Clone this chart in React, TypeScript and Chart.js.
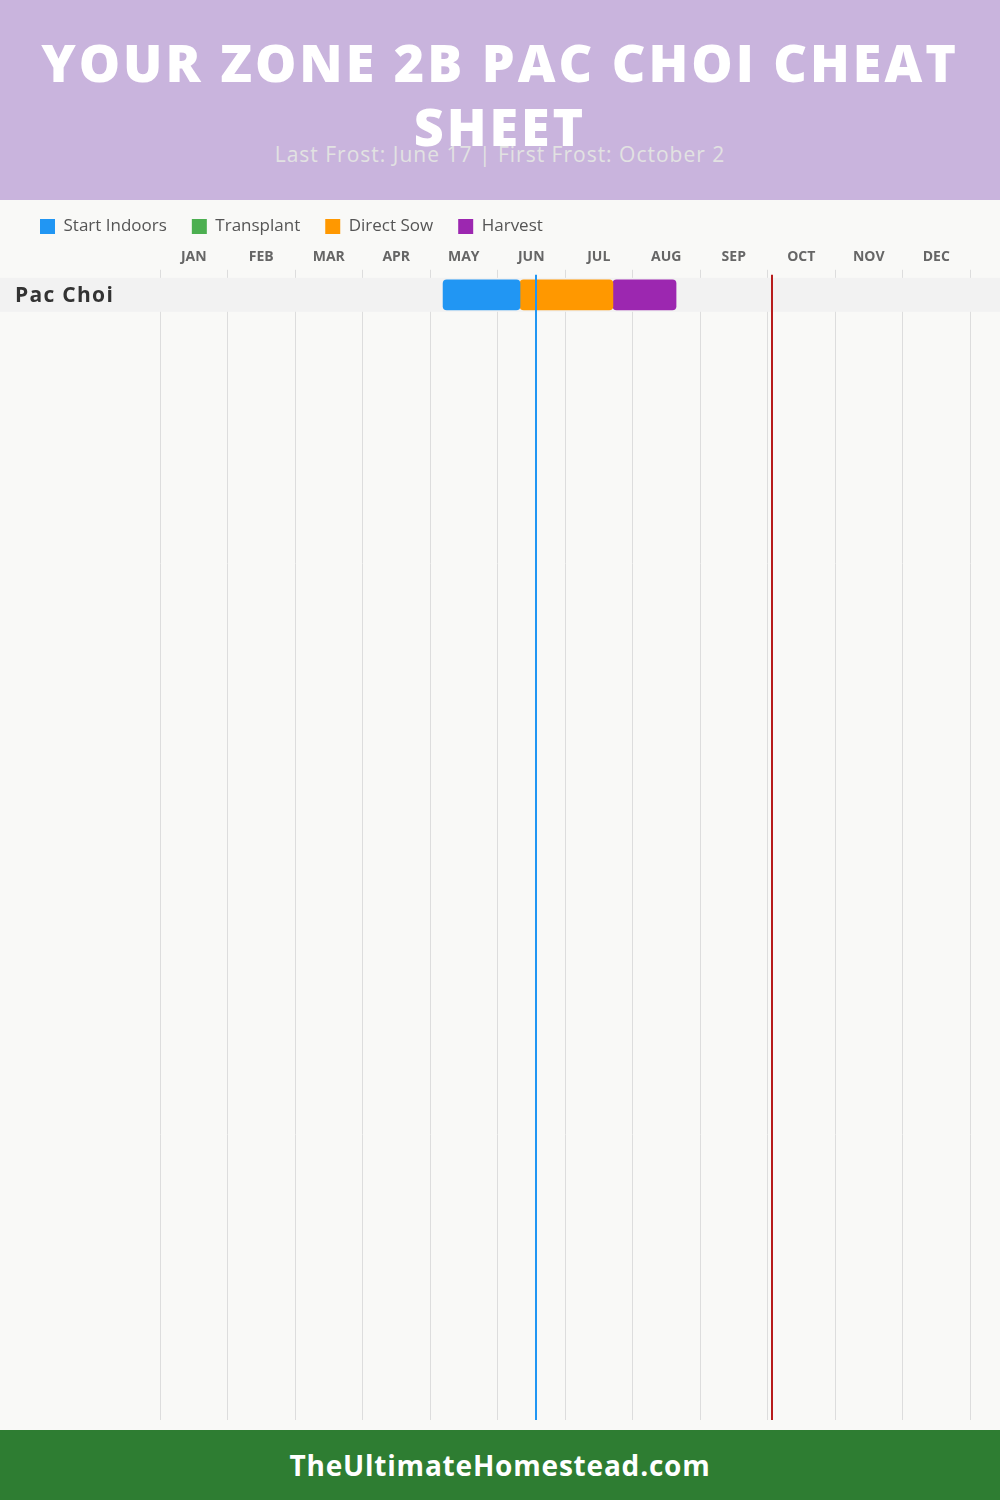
import React, { useEffect, useRef } from "react";
import { Chart, registerables } from "chart.js";

Chart.register(...registerables);

const TITLE_LINES = ["YOUR ZONE 2B PAC CHOI CHEAT", "SHEET"];
const SUBTITLE = "Last Frost: June 17 | First Frost: October 2";
const FOOTER = "TheUltimateHomestead.com";

const MONTHS = ["JAN", "FEB", "MAR", "APR", "MAY", "JUN", "JUL", "AUG", "SEP", "OCT", "NOV", "DEC"];
const DAYS_IN_MONTH = [31, 28, 31, 30, 31, 30, 31, 31, 30, 31, 30, 31];
const CROPS = ["Pac Choi"];

const SERIES_NAMES = ["Start Indoors", "Transplant", "Direct Sow", "Harvest"];
const SERIES_COLORS = ["#2196F3", "#4CAF50", "#FF9800", "#9C27B0"];
// [start "MM-DD", end "MM-DD"] for each crop, null when not applicable
const START_INDOORS = [["05-06", "06-10"]];
const TRANSPLANT: (string[] | null)[] = [null];
const DIRECT_SOW = [["06-10", "07-22"]];
const HARVEST = [["07-22", "08-20"]];

const LAST_FROST = "06-17";
const FIRST_FROST = "10-02";

const toMonthPos = (md: string) => {
  const [m, d] = md.split("-").map(Number);
  return m - 1 + d / DAYS_IN_MONTH[m - 1];
};

const ROW_PX = 34;
const VISIBLE_ROWS = (1220 - 78) / ROW_PX;

export default function App() {
  const canvasRef = useRef<HTMLCanvasElement | null>(null);

  useEffect(() => {
    const canvas = canvasRef.current;
    if (!canvas) return;
    const seriesData = [START_INDOORS, TRANSPLANT, DIRECT_SOW, HARVEST];

    const rowPlugin = {
      id: "rows",
      beforeDatasetsDraw(chart: any) {
        const { ctx } = chart;
        const y = chart.scales.y;
        ctx.save();
        CROPS.forEach((name, i) => {
          const top = y.getPixelForValue(i);
          const bottom = y.getPixelForValue(i + 1);
          ctx.fillStyle = "#f2f2f2";
          ctx.fillRect(0, top, chart.width, bottom - top);
          ctx.fillStyle = "#333333";
          ctx.font = "bold 21px 'Open Sans', sans-serif";
          try {
            (ctx as any).letterSpacing = "1.3px";
          } catch (e) {}
          ctx.textBaseline = "middle";
          ctx.textAlign = "left";
          ctx.fillText(name, 15, (top + bottom) / 2 + 1);
        });
        ctx.restore();
      },
      afterDatasetsDraw(chart: any) {
        const { ctx, chartArea } = chart;
        const x = chart.scales.x;
        ctx.save();
        ctx.lineWidth = 2;
        [
          [LAST_FROST, "#2196F3"],
          [FIRST_FROST, "#B71C1C"],
        ].forEach(([md, color]) => {
          const px = Math.round(x.getPixelForValue(toMonthPos(md)));
          ctx.strokeStyle = color;
          ctx.beginPath();
          ctx.moveTo(px, chartArea.top - 3);
          ctx.lineTo(px, chartArea.bottom);
          ctx.stroke();
        });
        ctx.restore();
      },
    };

    const chart = new Chart(canvas, {
      type: "bar",
      data: {
        datasets: SERIES_NAMES.map((name, si) => ({
          label: name,
          backgroundColor: SERIES_COLORS[si],
          borderWidth: 0,
          borderRadius: 4,
          borderSkipped: false,
          barThickness: 30,
          grouped: false,
          data: seriesData[si]
            .map((r, ci) => (r ? { y: ci + 0.5, x: [toMonthPos(r[0]), toMonthPos(r[1])] } : null))
            .filter((d) => d !== null) as any,
        })),
      },
      options: {
        indexAxis: "y",
        animation: false,
        responsive: false,
        layout: { padding: { top: -7, left: 15, right: 30, bottom: 10 } },
        plugins: {
          legend: {
            position: "top",
            align: "start",
            labels: {
              boxWidth: 15,
              boxHeight: 15,
              padding: 25,
              color: "#555555",
              font: { family: "'Open Sans', sans-serif", size: 17, weight: "500" },
            },
          },
          tooltip: { enabled: false },
        },
        scales: {
          x: {
            type: "linear",
            position: "top",
            min: 0,
            max: 12,
            offset: false,
            afterBuildTicks: (s: any) => {
              const t = [];
              for (let i = 0; i <= 24; i++) t.push({ value: i / 2 });
              s.ticks = t;
            },
            ticks: {
              autoSkip: false,
              maxRotation: 0,
              padding: 4,
              color: "#666666",
              font: { family: "'Open Sans', sans-serif", size: 14, weight: "bold" },
              callback: (v: any) => (Number.isInteger(v) ? "" : MONTHS[Math.floor(v)]),
            },
            grid: {
              color: (c: any) => (c.tick && Number.isInteger(c.tick.value) ? "#dddddd" : "rgba(0,0,0,0)"),
              lineWidth: 1,
              tickLength: 8,
              offset: false,
            },
            border: { display: false },
          },
          y: {
            type: "linear",
            reverse: true,
            offset: false,
            min: 0,
            max: VISIBLE_ROWS,
            afterFit: (s: any) => {
              s.width = 145;
            },
            ticks: { display: false },
            grid: { display: false, offset: false },
            border: { display: false },
          },
        },
      },
      plugins: [rowPlugin],
    } as any);

    return () => chart.destroy();
  }, []);

  return (
    <div style={{ width: 1000, height: 1500, position: "relative", background: "#f9f9f7", fontFamily: "'Open Sans', sans-serif" }}>
      <style>{`body{margin:0;}`}</style>
      <div style={{ position: "absolute", left: 0, top: 0, width: 1000, height: 200, background: "#C9B4DD" }}>
        <div
          style={{
            position: "absolute",
            top: 30,
            left: 0,
            width: 1000,
            textAlign: "center",
            color: "#ffffff",
            fontWeight: 800,
            fontSize: 52,
            lineHeight: "64px",
            letterSpacing: 3,
          }}
        >
          {TITLE_LINES[0]}
          <br />
          {TITLE_LINES[1]}
        </div>
        <div
          style={{
            position: "absolute",
            top: 140,
            left: 0,
            width: 1000,
            textAlign: "center",
            color: "#e2e2e2",
            fontSize: 21,
            lineHeight: "28px",
            letterSpacing: 1,
          }}
        >
          {SUBTITLE}
        </div>
      </div>
      <div style={{ position: "absolute", left: 0, top: 200, width: 1000, height: 1230 }}>
        <canvas ref={canvasRef} width={1000} height={1230} style={{ display: "block" }} />
      </div>
      <div
        style={{
          position: "absolute",
          left: 0,
          top: 1430,
          width: 1000,
          height: 70,
          background: "#2E7D32",
          color: "#ffffff",
          textAlign: "center",
          fontWeight: 700,
          fontSize: 28,
          lineHeight: "70px",
          letterSpacing: 0.8,
        }}
      >
        {FOOTER}
      </div>
    </div>
  );
}
